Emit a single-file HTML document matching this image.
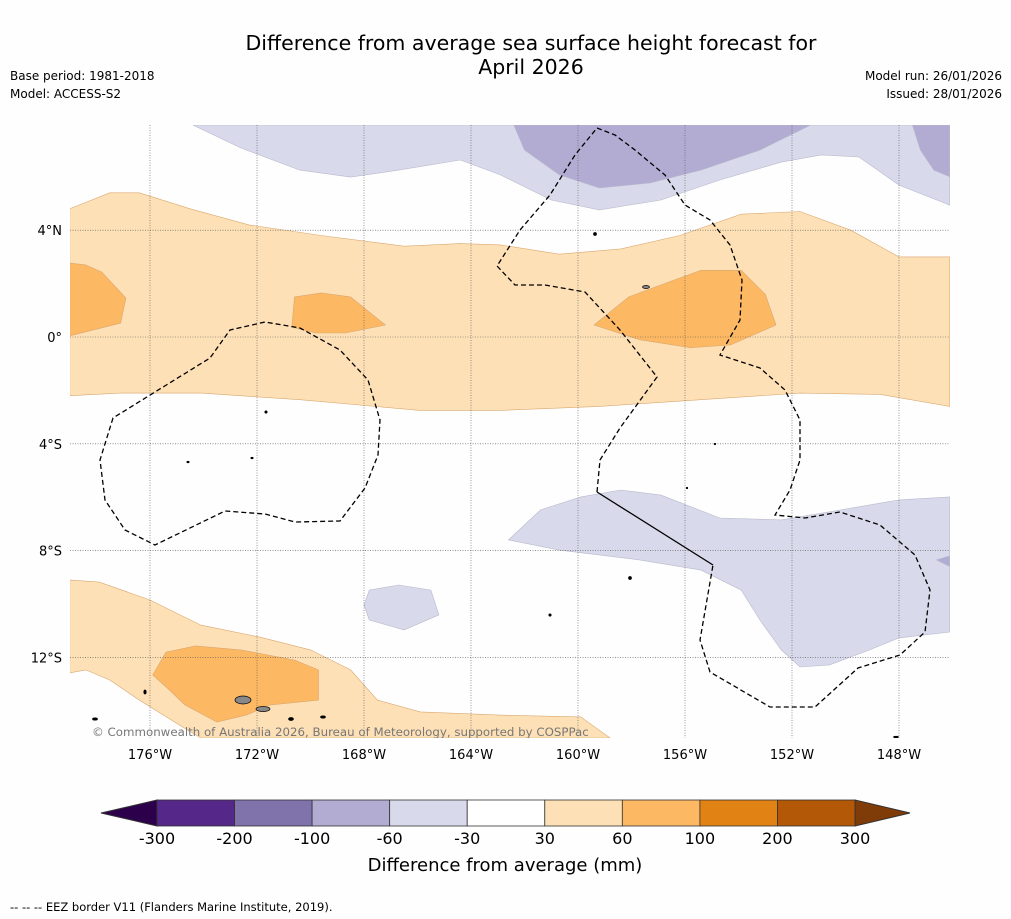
<!DOCTYPE html>
<html><head><meta charset="utf-8">
<style>
body{margin:0;background:#fff;font-family:"DejaVu Sans","Liberation Sans",sans-serif;}
svg{display:block}
</style></head>
<body>
<svg id="chart" width="1011" height="919" viewBox="0 0 1011 919" font-family="DejaVu Sans, Liberation Sans, sans-serif">
<rect width="1011" height="919" fill="#fefefe"/>
<text x="531" y="50" font-size="20.5" text-anchor="middle">Difference from average sea surface height forecast for</text>
<text x="531" y="74" font-size="20.5" text-anchor="middle">April 2026</text>
<text x="10" y="80" font-size="12">Base period: 1981-2018</text>
<text x="10" y="98" font-size="12">Model: ACCESS-S2</text>
<text x="1002" y="80" font-size="12" text-anchor="end">Model run: 26/01/2026</text>
<text x="1002" y="98" font-size="12" text-anchor="end">Issued: 28/01/2026</text>
<defs><clipPath id="mapclip"><rect x="70" y="125" width="880" height="613"/></clipPath></defs>
<g id="map" clip-path="url(#mapclip)"></g>
<g id="axes"></g>
<g id="cbar"></g>
<text x="505" y="871" font-size="18" text-anchor="middle">Difference from average (mm)</text>
<text x="10" y="911" font-size="11.5">-- -- -- EEZ border V11 (Flanders Marine Institute, 2019).</text>
</svg>
<script>
const NS="http://www.w3.org/2000/svg";
const lonTicks=[-176,-172,-168,-164,-160,-156,-152,-148];
const lonLabels=["176°W","172°W","168°W","164°W","160°W","156°W","152°W","148°W"];
const latTicks=[4,0,-4,-8,-12];
const latLabels=["4°N","0°","4°S","8°S","12°S"];
const levels=[-300,-200,-100,-60,-30,30,60,100,200,300];
const levelColors=["#542788","#8073ac","#b2abd2","#d8daeb","#ffffff","#fee0b6","#fdb863","#e08214","#b35806"];
const lowColor="#2d004b", highColor="#7f3b08";
const lavTop=[[-174.4,7.94],[-172.6,7.08],[-170.4,6.25],[-168.5,5.99],[-166.7,6.25],[-164.4,6.63],[-162.9,6.07],[-161.0,5.13],[-159.2,4.76],[-156.9,5.13],[-154.7,5.88],[-152.4,6.55],[-150.9,6.82],[-149.5,6.74],[-148,5.69],[-146.1,4.94],[-146.1,7.94]];
const purpTop=[[-162.4,7.94],[-162.0,7.0],[-160.7,6.07],[-159.2,5.58],[-157.3,5.77],[-155.4,6.25],[-153.2,7.0],[-151.3,7.94]];
const purpTopRight=[[-147.5,7.94],[-147.2,7.0],[-146.7,6.25],[-146.1,6.0],[-146.1,7.94]];
const orangeBand=[[-179,4.8],[-177.5,5.4],[-176.4,5.4],[-174.5,4.8],[-172.3,4.2],[-169.6,3.8],[-166.5,3.4],[-164.4,3.5],[-162.9,3.45],[-160.7,3.1],[-158.4,3.3],[-156.2,3.8],[-153.9,4.6],[-151.7,4.7],[-149.8,4.0],[-148,3.0],[-146.1,3.0],[-146.1,-2.6],[-148.7,-2.15],[-151.7,-2.1],[-155.4,-2.35],[-159.2,-2.6],[-162.9,-2.75],[-165.9,-2.75],[-170.4,-2.35],[-174.1,-2.1],[-177.1,-2.1],[-179,-2.2]];
const orangeBlob1=[[-179,2.77],[-178.4,2.7],[-177.8,2.43],[-176.9,1.46],[-177.1,0.52],[-179,0.04]];
const orangeBlob2=[[-170.6,1.5],[-169.6,1.65],[-168.5,1.5],[-167.2,0.45],[-168.7,0.15],[-169.8,0.15],[-170.7,0.37]];
const orangeBlob3=[[-159.4,0.45],[-158.1,1.5],[-156.9,1.95],[-155.4,2.5],[-153.9,2.5],[-153.0,1.6],[-152.6,0.45],[-154.3,-0.3],[-155.8,-0.4],[-157.7,-0.1]];
const lavLow=[[-162.6,-7.6],[-161.4,-6.48],[-159.9,-5.99],[-158.4,-5.73],[-156.9,-5.92],[-154.7,-6.78],[-152.4,-6.85],[-150.2,-6.48],[-148,-6.1],[-146.1,-5.99],[-146.1,-11.05],[-148,-11.27],[-149.1,-11.72],[-150.6,-12.28],[-151.7,-12.36],[-152.4,-11.72],[-153.2,-10.6],[-153.9,-9.48],[-155.4,-8.73],[-157.7,-8.35],[-160.7,-7.98]];
const purpLowRight=[[-146.1,-8.2],[-146.6,-8.35],[-146.1,-8.6]];
const lavSmall=[[-167.8,-9.48],[-166.7,-9.29],[-165.5,-9.48],[-165.2,-10.41],[-166.5,-10.97],[-167.8,-10.6],[-168.0,-10.04]];
const orangeLow=[[-179,-9.1],[-177.9,-9.18],[-176,-9.85],[-174.1,-10.79],[-171.9,-11.24],[-170,-11.72],[-168.5,-12.47],[-167.5,-13.6],[-165.9,-14.04],[-162.9,-14.16],[-159.9,-14.23],[-158.8,-15.02],[-174.1,-15.02],[-174.9,-14.53],[-176.4,-13.6],[-177.5,-12.85],[-178.4,-12.47],[-179,-12.58]];
const orangeLowBlob=[[-175.9,-12.66],[-175.4,-11.8],[-174.3,-11.57],[-172.6,-11.72],[-170.6,-12.1],[-169.7,-12.47],[-169.7,-13.6],[-171.5,-13.78],[-172.4,-14.16],[-173.5,-14.42],[-174.7,-13.78],[-175.3,-13.2]];
const regions=[[3,lavTop],[2,purpTop],[2,purpTopRight],[5,orangeBand],[6,orangeBlob1],[6,orangeBlob2],[6,orangeBlob3],[3,lavLow],[2,purpLowRight],[3,lavSmall],[5,orangeLow],[6,orangeLowBlob]];

function X(lon){return 150+(lon+176)*26.75;}
function Y(lat){return 337-lat*26.7;}
const map=document.getElementById('map');
function poly(pts,fill,stroke,nm){
  const p=document.createElementNS(NS,'polygon');
  p.setAttribute('points',pts.map(q=>X(q[0]).toFixed(1)+','+Y(q[1]).toFixed(1)).join(' '));
  p.setAttribute('fill',fill);
  p.setAttribute('stroke',stroke);p.setAttribute('stroke-width','0.6');
  
  
  map.appendChild(p);
}
regions.forEach((r,i)=>{
  const c=levelColors[r[0]];
  poly(r[1],c,r[0]>=5?'#d9a870':'#b8b8cc','contour-region-'+i);
});
lonTicks.forEach(l=>{
  const ln=document.createElementNS(NS,'line');
  ln.setAttribute('x1',X(l));ln.setAttribute('x2',X(l));ln.setAttribute('y1',125);ln.setAttribute('y2',738);
  ln.setAttribute('stroke','#555');ln.setAttribute('stroke-width','0.6');ln.setAttribute('stroke-dasharray','1,1.5');
  
  
  map.appendChild(ln);
});
latTicks.forEach(l=>{
  const ln=document.createElementNS(NS,'line');
  ln.setAttribute('y1',Y(l));ln.setAttribute('y2',Y(l));ln.setAttribute('x1',70);ln.setAttribute('x2',950);
  ln.setAttribute('stroke','#555');ln.setAttribute('stroke-width','0.6');ln.setAttribute('stroke-dasharray','1,1.5');
  
  
  map.appendChild(ln);
});
function path(d,dash,nm){
  const p=document.createElementNS(NS,'path');
  p.setAttribute('d',d);p.setAttribute('fill','none');p.setAttribute('stroke','#000');p.setAttribute('stroke-width','1.3');
  if(dash)p.setAttribute('stroke-dasharray','5,3');
  
  
  map.appendChild(p);
}
path('M113,418 L100,460 L105,500 L125,530 L155,545 L225,511 L265,514 L295,522 L340,521 L365,488 L378,455 L380,420 L368,380 L340,350 L300,328 L265,322 L230,330 L210,358 L155,392 Z',true,'eez-border-west');
path('M597,492 L600,460 L620,428 L657,377 L620,330 L585,292 L545,285 L515,285 L497,266 L520,230 L550,195 L575,155 L597,128 L615,135 L635,150 L665,175 L685,205 L710,220 L730,245 L742,280 L740,320 L720,355 L760,368 L785,390 L800,420 L800,460 L790,490 L775,515 L805,518 L840,512 L880,525 L915,555 L930,590 L925,632 L900,655 L858,668 L815,707 L770,707 L710,672 L700,640 L713,565',true,'eez-border-central');
path('M597,492 L713,565',false,'boundary-solid');
[[243,700,'#888',8,4],[263,709,'#888',7,2.5],[291,719,'#000',2.5,1.5],[323,717,'#000',2.5,1.2],[145,692,'#000',1.2,2],[95,719,'#000',2.5,1.2],[595,234,'#000',1.5,1.5],[646,287,'#888',3.5,1.5],[630,578,'#000',1.5,1.5],[550,615,'#000',1.2,1.2],[188,462,'#000',1.2,0.8],[252,458,'#000',1.2,0.8],[266,412,'#000',1.2,1.2],[715,444,'#000',0.8,0.8],[687,488,'#000',0.8,0.8],[896,737,'#000',2.5,0.8]].forEach((d,i)=>{
  const e=document.createElementNS(NS,'ellipse');
  e.setAttribute('cx',d[0]);e.setAttribute('cy',d[1]);e.setAttribute('rx',d[3]);e.setAttribute('ry',d[4]);
  e.setAttribute('fill',d[2]);e.setAttribute('stroke','#000');e.setAttribute('stroke-width','0.7');
  
  
  map.appendChild(e);
});
const cp=document.createElementNS(NS,'text');
cp.setAttribute('x',92);cp.setAttribute('y',736);cp.setAttribute('font-size','11.8');cp.setAttribute('fill','#777');
cp.textContent='© Commonwealth of Australia 2026, Bureau of Meteorology, supported by COSPPac';


map.appendChild(cp);
const axes=document.getElementById('axes');
lonTicks.forEach((l,i)=>{
  const t=document.createElementNS(NS,'text');
  t.setAttribute('x',X(l));t.setAttribute('y',759);t.setAttribute('font-size','13');t.setAttribute('text-anchor','middle');
  t.textContent=lonLabels[i];
  
  
  axes.appendChild(t);
});
latTicks.forEach((l,i)=>{
  const t=document.createElementNS(NS,'text');
  t.setAttribute('x',62);t.setAttribute('y',Y(l)+5);t.setAttribute('font-size','13');t.setAttribute('text-anchor','end');
  t.textContent=latLabels[i];
  
  
  axes.appendChild(t);
});
const cb=document.getElementById('cbar');
const cx0=157,cw=(855-157)/(levels.length-1),cy=800,ch=26;
const lt=document.createElementNS(NS,'polygon');
lt.setAttribute('points',`${cx0},${cy} ${cx0},${cy+ch} 101,${cy+ch/2}`);lt.setAttribute('fill',lowColor);lt.setAttribute('stroke','#333');


cb.appendChild(lt);
const xe=cx0+cw*(levels.length-1);
const rt=document.createElementNS(NS,'polygon');
rt.setAttribute('points',`${xe},${cy} ${xe},${cy+ch} 910,${cy+ch/2}`);rt.setAttribute('fill',highColor);rt.setAttribute('stroke','#333');


cb.appendChild(rt);
levelColors.forEach((c,i)=>{
  const r=document.createElementNS(NS,'rect');
  r.setAttribute('x',cx0+i*cw);r.setAttribute('y',cy);r.setAttribute('width',cw);r.setAttribute('height',ch);
  r.setAttribute('fill',c);r.setAttribute('stroke','#333');r.setAttribute('stroke-width','0.8');
  
  
  cb.appendChild(r);
});
levels.forEach((v,i)=>{
  const t=document.createElementNS(NS,'text');
  t.setAttribute('x',cx0+i*cw);t.setAttribute('y',844);t.setAttribute('font-size','16');t.setAttribute('text-anchor','middle');
  t.textContent=v;
  
  
  cb.appendChild(t);
});
</script>
</body></html>
